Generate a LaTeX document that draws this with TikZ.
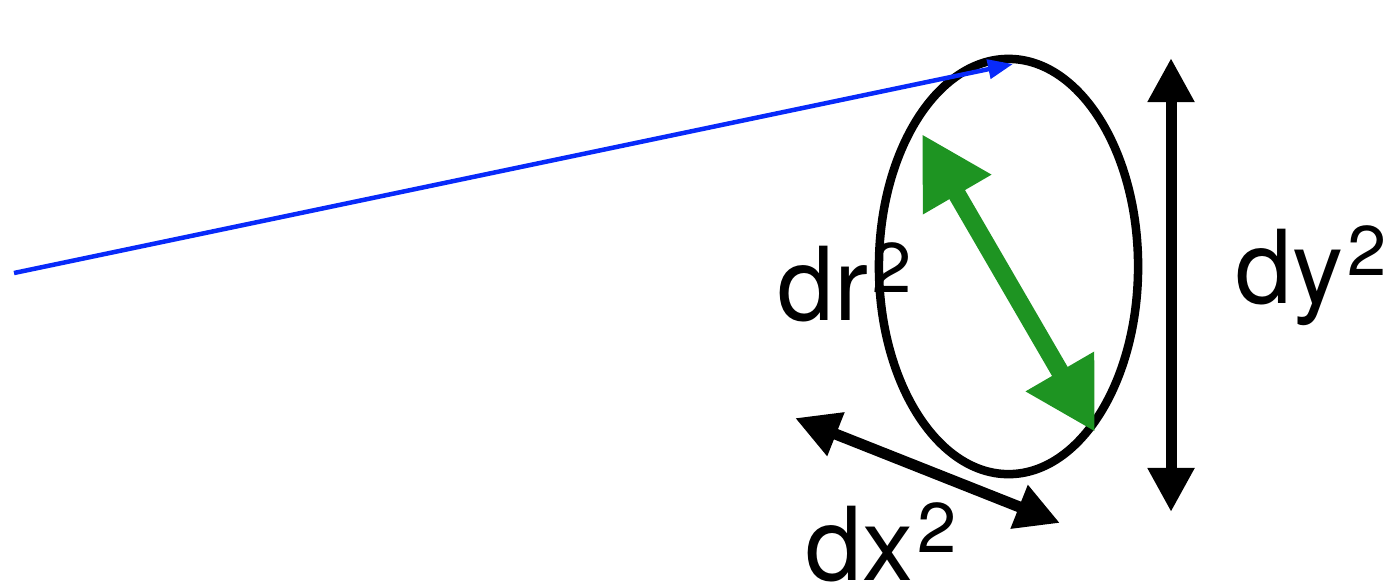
\documentclass[tikz,border=0pt]{standalone}
\usepackage{fontspec}
\setmainfont{TeX Gyre Heros}
\usepackage{xcolor}
\usetikzlibrary{arrows.meta,shapes.geometric}
\definecolor{rayblue}{RGB}{8, 42, 250}
\definecolor{axisgreen}{RGB}{30, 148, 34}
\newcommand{\sqlabel}[1]{#1\hspace{0.04cm}\raisebox{0.28cm}{\fontsize{20}{20}\selectfont 2}}

\begin{document}
\begin{tikzpicture}[
  x=0.01cm, y=-0.01cm,
  spot/.style={ellipse, draw=black, line width=0.085cm, minimum width=2.59cm, minimum height=4.15cm, inner sep=0pt},
  ray/.style={-{Triangle[length=0.25cm,width=0.19cm]}, line width=0.045cm, draw=rayblue},
  span/.style={{Triangle[length=0.44cm,width=0.44cm]}-{Triangle[length=0.44cm,width=0.44cm]}, line width=0.11cm, draw=black},
  axis/.style={{Triangle[length=0.7cm,width=0.74cm]}-{Triangle[length=0.7cm,width=0.74cm]}, line width=0.18cm, draw=axisgreen, fill=axisgreen},
  lbl/.style={anchor=base west, inner sep=0pt, font=\fontsize{29}{29}\selectfont}
]
\useasboundingbox (0,0) rectangle (1392,587);

% Ellipse
\node[spot] (spot) at (1008.5,266.5) {};

% Arrow end points
\coordinate (rayfrom) at (14,273);
\coordinate (rayto) at (1013,64);
\coordinate (rtop) at (922,134);
\coordinate (rbot) at (1095,432);
\coordinate (ytop) at (1171,58);
\coordinate (ybot) at (1171,512);
\coordinate (xleft) at (795,418);
\coordinate (xright) at (1060,523);

% Arrows
\draw[ray] (rayfrom) -- (rayto);
\draw[axis] (rtop) -- (rbot);
\draw[span] (ytop) -- (ybot);
\draw[span] (xleft) -- (xright);

% Labels
\node[lbl] (drlbl) at (777,320) {\sqlabel{dr}};
\node[lbl] (dylbl) at (1235,303) {\sqlabel{dy}};
\node[lbl] (dxlbl) at (805,580) {\sqlabel{dx}};

\end{tikzpicture}
\end{document}
